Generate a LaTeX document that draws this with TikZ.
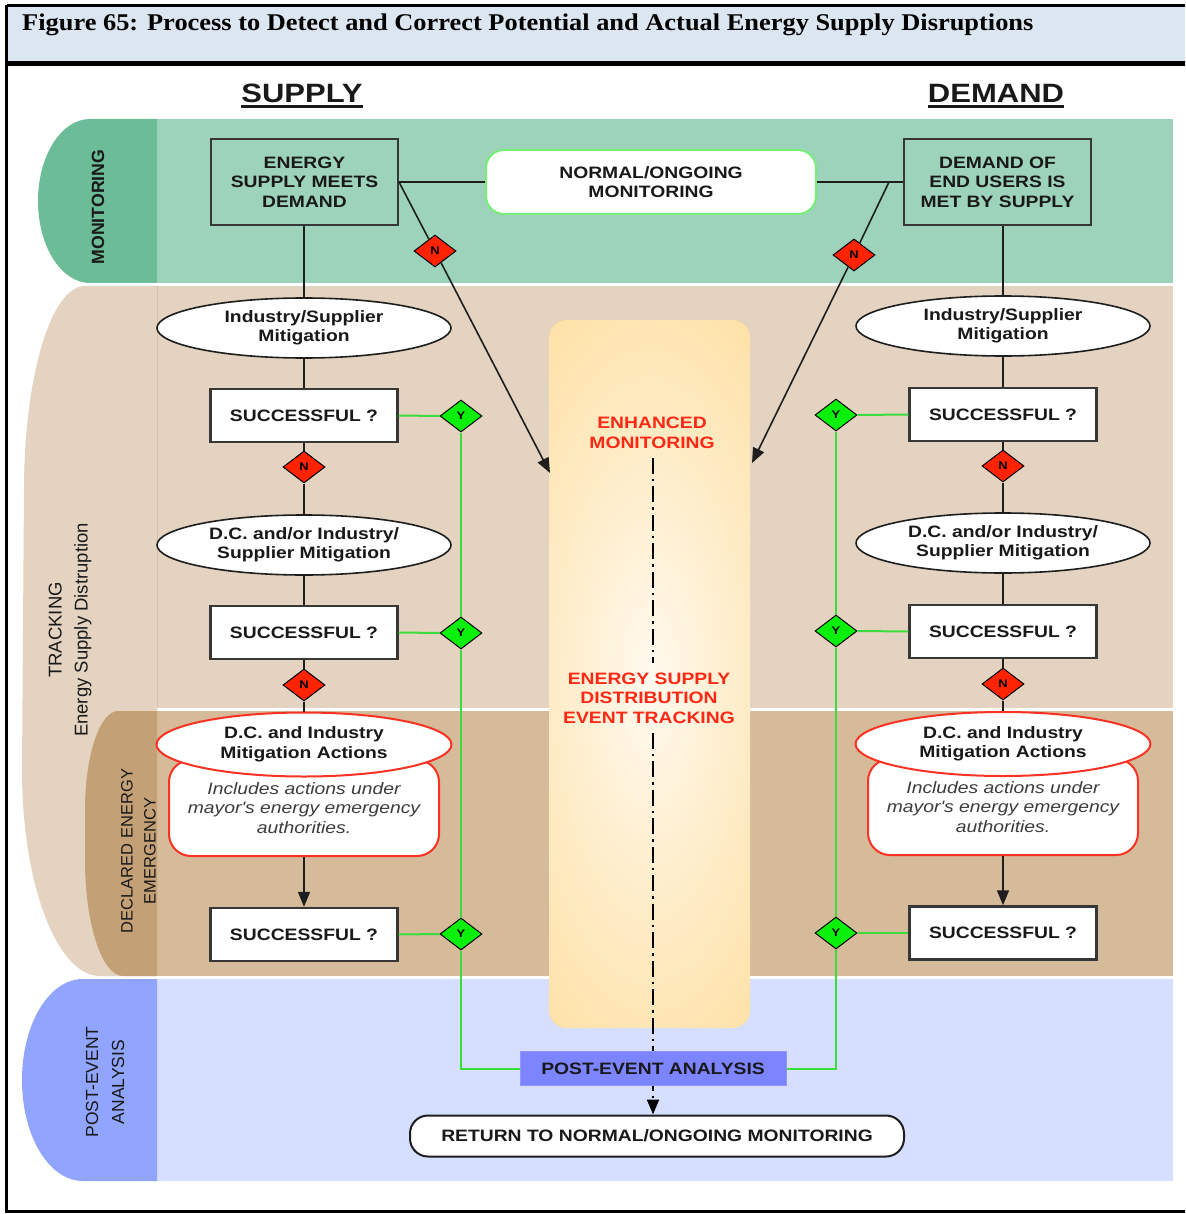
\documentclass[tikz,border=0pt]{standalone}
\usepackage{fontspec}
\setmainfont{Liberation Serif}
\newfontfamily\capfont{Liberation Serif}[FakeStretch=1.1]
\newfontfamily\boxfont{Liberation Sans}[FakeStretch=1.17]
\newfontfamily\lanefont{Liberation Sans}
\usetikzlibrary{shapes.geometric,arrows.meta}

\definecolor{titlebg}{RGB}{220,230,241}
\definecolor{monTab}{RGB}{108,188,151}
\definecolor{monBg}{RGB}{158,211,187}
\definecolor{trkBg}{RGB}{227,211,192}
\definecolor{trkLine}{RGB}{212,194,172}
\definecolor{decTab}{RGB}{196,160,119}
\definecolor{decBg}{RGB}{213,187,153}
\definecolor{postTab}{RGB}{145,165,255}
\definecolor{postBg}{RGB}{214,223,255}
\definecolor{colTop}{RGB}{253,210,122}
\definecolor{colMid}{RGB}{255,249,238}
\definecolor{redtext}{RGB}{255,40,20}
\definecolor{redline}{RGB}{250,50,35}
\definecolor{nred}{RGB}{255,35,0}
\definecolor{ygreen}{RGB}{10,240,10}
\definecolor{greenl}{RGB}{60,220,60}
\definecolor{normedge}{RGB}{120,238,120}
\definecolor{peafill}{RGB}{125,132,255}
\definecolor{boxc}{RGB}{55,55,55}
\definecolor{linkc}{RGB}{30,30,30}
\definecolor{textc}{RGB}{25,25,25}
\definecolor{notec}{RGB}{60,60,60}

\newcommand\bxtxt{\boxfont\bfseries\fontsize{16.5}{19.5}\selectfont}
\newcommand\ntxt{\boxfont\itshape\fontsize{16.5}{19.5}\selectfont}
\newcommand\dtxt{\boxfont\bfseries\fontsize{11}{12}\selectfont}
\newcommand\hdtxt{\boxfont\bfseries\fontsize{26.5}{30}\selectfont}

\tikzset{
  link/.style={draw=linkc, line width=1.6pt},
  glink/.style={draw=greenl, line width=2pt},
  arr/.style={-{Triangle[length=15pt,width=12pt]}},
  dashdot/.style={draw=black, line width=2pt, dash pattern=on 16pt off 5pt on 2.5pt off 5pt},
  sbox/.style={rectangle, draw=boxc, line width=2.4pt, fill=white, minimum width=187pt,
    minimum height=53pt, inner sep=0pt, font=\bxtxt, text=textc},
  gbox/.style={rectangle, draw=boxc, line width=2pt, minimum width=187pt, minimum height=86pt,
    inner sep=0pt, align=center, font=\bxtxt, text=textc},
  oval/.style={ellipse, draw=linkc, line width=1.6pt, fill=white, minimum width=294pt,
    minimum height=60pt, inner sep=0pt, align=center, font=\bxtxt, text=textc},
  redoval/.style={oval, draw=redline, line width=2pt, minimum width=295pt, minimum height=64pt},
  notebox/.style={rectangle, rounded corners=22pt, draw=redline, line width=2pt, fill=white,
    minimum width=270pt, minimum height=96pt, inner sep=0pt, align=center, font=\ntxt, text=notec},
  ndia/.style={diamond, draw=black, line width=1pt, fill=nred, minimum width=42pt,
    minimum height=32pt, inner sep=0pt, font=\dtxt, text=black},
  ydia/.style={ndia, fill=ygreen},
  redtxt/.style={align=center, font=\bxtxt, text=redtext, inner sep=9pt},
  peabox/.style={rectangle, fill=peafill, draw=peafill!85!white, line width=1pt, minimum width=266pt,
    minimum height=34pt, inner sep=0pt, font=\bxtxt, text=textc},
  lanelabel/.style={rotate=90, align=center, text=textc, inner sep=0pt},
}

\begin{document}
\begin{tikzpicture}[x=1pt,y=-1pt]
\useasboundingbox (0,0) rectangle (1185,1214);
\clip (0,0) rectangle (1185,1214);

% ---- page frame and caption ----
\fill[titlebg] (6,5) rectangle (1195,63);
\draw[line width=3.5pt] (6.5,5.5) -- (1195,5.5);
\draw[line width=3.5pt] (6.5,5.5) -- (6.5,1211.5) -- (1195,1211.5);
\draw[line width=4.5pt] (6.5,63.5) -- (1195,63.5);
\node[anchor=base west, inner sep=0pt, font=\capfont\bfseries\fontsize{24}{28}\selectfont] (cap)
  at (22,31) {Figure 65: Process to Detect and Correct Potential and Actual Energy Supply Disruptions};

% ---- column headers ----
\node[anchor=base, inner sep=0pt, font=\hdtxt, text=textc] (hsup) at (302,103) {SUPPLY};
\node[anchor=base, inner sep=0pt, font=\hdtxt, text=textc] (hdem) at (996,103) {DEMAND};
\draw[line width=2.5pt, textc] ([yshift=-3.5pt]hsup.base west) -- ([yshift=-3.5pt]hsup.base east);
\draw[line width=2.5pt, textc] ([yshift=-3.5pt]hdem.base west) -- ([yshift=-3.5pt]hdem.base east);

% ---- swim lanes ----
% monitoring
\fill[monBg] (157,119) rectangle (1173,283);
\fill[monTab] (157,119) -- (90,119) .. controls (61,119) and (38,156) .. (38,201)
  .. controls (38,246) and (61,283) .. (90,283) -- (157,283) -- cycle;
% tracking
\fill[trkBg] (157,286) rectangle (1173,708);
\fill[trkBg] (157,286) -- (85,286) .. controls (51,286) and (24,377) .. (24,490)
  -- (22,770) .. controls (22,884) and (57,976) .. (100,976) -- (157,976) -- cycle;
\draw[trkLine, line width=1pt] (157,286) -- (157,708);
% declared energy emergency
\fill[decBg] (157,711) rectangle (1173,976);
\fill[decTab] (157,711) -- (118,711) .. controls (100,711) and (85,755) .. (85,810)
  -- (85,860) .. controls (85,924) and (102,976) .. (123,976) -- (157,976) -- cycle;
% post-event analysis
\fill[postBg] (157,979) rectangle (1173,1181);
\fill[postTab] (157,979) -- (83,979) .. controls (49,979) and (22,1024) .. (22,1080)
  .. controls (22,1136) and (49,1181) .. (83,1181) -- (157,1181) -- cycle;

% lane labels
\node[lanelabel, font=\lanefont\bfseries\fontsize{17.7}{20}\selectfont] (lmon) at (98,207) {MONITORING};
\node[lanelabel, font=\lanefont\fontsize{18.5}{26}\selectfont] (ltrk) at (70,630)
  {TRACKING\\Energy Supply Distruption};
\node[lanelabel, font=\lanefont\fontsize{16.5}{23}\selectfont] (ldec) at (138.5,851)
  {DECLARED ENERGY\\EMERGENCY};
\node[lanelabel, font=\lanefont\fontsize{17.5}{26}\selectfont] (lpost) at (105,1082)
  {POST-EVENT\\ANALYSIS};

% ---- central event-tracking column ----
\begin{scope}
  \clip[rounded corners=18pt] (549,320) rectangle (750,1028);
  \fill[colTop] (549,320) rectangle (750,1028);
  \shade[inner color=colMid, outer color=colTop] (650,680) ellipse [x radius=290pt, y radius=700pt];
\end{scope}
\coordinate (dl) at (653,0);
\node[redtxt] (enh) at (652,433) {ENHANCED\\MONITORING};
\node[redtxt] (esd) at (649,698) {ENERGY SUPPLY\\DISTRIBUTION\\EVENT TRACKING};

% ---- top row ----
\node[gbox] (esm) at (304.5,182) {ENERGY\\SUPPLY MEETS\\DEMAND};
\node[gbox] (dem) at (997.5,182) {DEMAND OF\\END USERS IS\\MET BY SUPPLY};
\node[rectangle, rounded corners=18pt, draw=normedge, line width=2pt, fill=white,
  minimum width=330pt, minimum height=64pt, inner sep=0pt, align=center, font=\bxtxt, text=textc]
  (norm) at (651,182) {NORMAL/ONGOING\\MONITORING};
\coordinate (br) at (889,182);

% ---- supply side ----
\node[oval] (lo1) at (304,328) {Industry/Supplier\\Mitigation};
\node[sbox] (ls1) at (304,415.5) {SUCCESSFUL ?};
\node[ndia] (ln1) at (304,467) {N};
\node[oval] (lo2) at (304,545) {D.C. and/or Industry/\\Supplier Mitigation};
\node[sbox] (ls2) at (304,632.5) {SUCCESSFUL ?};
\node[ndia] (ln2) at (304,685) {N};
\node[notebox] (lnote) at (304,808) {Includes actions under\\mayor's energy emergency\\authorities.};
\node[redoval] (lo3) at (304,744.5) {D.C. and Industry\\Mitigation Actions};
\node[sbox] (ls3) at (304,934.5) {SUCCESSFUL ?};
\node[ydia] (ly1) at (461,416) {Y};
\node[ydia] (ly2) at (461,633) {Y};
\node[ydia] (ly3) at (461,934) {Y};

% ---- demand side ----
\node[oval] (ro1) at (1003,326) {Industry/Supplier\\Mitigation};
\node[sbox] (rs1) at (1003,414.5) {SUCCESSFUL ?};
\node[ndia] (rn1) at (1003,466) {N};
\node[oval] (ro2) at (1003,543) {D.C. and/or Industry/\\Supplier Mitigation};
\node[sbox] (rs2) at (1003,631.5) {SUCCESSFUL ?};
\node[ndia] (rn2) at (1003,684) {N};
\node[notebox] (rnote) at (1003,807) {Includes actions under\\mayor's energy emergency\\authorities.};
\node[redoval] (ro3) at (1003,744) {D.C. and Industry\\Mitigation Actions};
\node[sbox] (rs3) at (1003,933) {SUCCESSFUL ?};
\node[ydia] (ry1) at (836,415) {Y};
\node[ydia] (ry2) at (836,631) {Y};
\node[ydia] (ry3) at (836,933) {Y};

% N decisions leaving the monitoring lane
\node[ndia] (tn1) at (435,251) {N};
\node[ndia] (tn2) at (854,255) {N};
\coordinate (tipL) at (550,473);
\coordinate (tipR) at (752,463);

% ---- bottom row ----
\node[peabox] (pea) at (653,1068.5) {POST-EVENT ANALYSIS};
\node[rectangle, rounded corners=18pt, draw=linkc, line width=2pt, fill=white, minimum width=494pt,
  minimum height=41pt, inner sep=0pt, font=\bxtxt, text=textc] (ret) at (657,1136)
  {RETURN TO NORMAL/ONGOING MONITORING};

% ---- connectors: monitoring row ----
\draw[link] (esm.east) -- (norm.west);
\draw[link] (norm.east) -- (dem.west);
\draw[link] (esm.east) -- (tn1);
\draw[link, arr] (tn1) -- (tipL);
\draw[link] (br) -- (tn2);
\draw[link, arr] (tn2) -- (tipR);

% ---- connectors: supply column ----
\draw[link] (esm.south -| lo1.north) -- (lo1.north);
\draw[link] (lo1.south) -- (ls1.north);
\draw[link] (ls1.south) -- (ln1.north);
\draw[link] (ln1.south) -- (lo2.north);
\draw[link] (lo2.south) -- (ls2.north);
\draw[link] (ls2.south) -- (ln2.north);
\draw[link] (ln2.south) -- (lo3.north);
\draw[link, arr] (lnote.south) -- (ls3.north);

% ---- connectors: demand column ----
\draw[link] (dem.south -| ro1.north) -- (ro1.north);
\draw[link] (ro1.south) -- (rs1.north);
\draw[link] (rs1.south) -- (rn1.north);
\draw[link] (rn1.south) -- (ro2.north);
\draw[link] (ro2.south) -- (rs2.north);
\draw[link] (rs2.south) -- (rn2.north);
\draw[link] (rn2.south) -- (ro3.north);
\draw[link, arr] (rnote.south) -- (rs3.north);

% ---- Y branches to post-event analysis ----
\draw[glink] (ls1.east) -- (ly1.west);
\draw[glink] (ls2.east) -- (ly2.west);
\draw[glink] (ls3.east) -- (ly3.west);
\draw[glink] (ly1.south) -- (ly2.north);
\draw[glink] (ly2.south) -- (ly3.north);
\draw[glink] (ly3.south) |- (pea.west);
\draw[glink] (rs1.west) -- (ry1.east);
\draw[glink] (rs2.west) -- (ry2.east);
\draw[glink] (rs3.west) -- (ry3.east);
\draw[glink] (ry1.south) -- (ry2.north);
\draw[glink] (ry2.south) -- (ry3.north);
\draw[glink] (ry3.south) |- (pea.east);

% ---- event tracking flow (runs behind the post-event box) ----
\draw[dashdot] (enh.south -| dl) -- (esd.north -| dl);
\draw[dashdot, arr] (esd.south -| dl) -- (ret.north -| dl);
\node[peabox] at (pea) {POST-EVENT ANALYSIS};
\end{tikzpicture}
\end{document}
